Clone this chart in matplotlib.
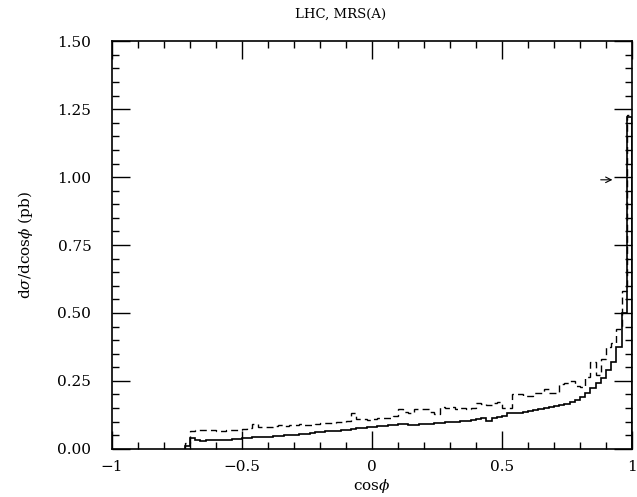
import numpy as np
import matplotlib.pyplot as plt
from matplotlib.ticker import MultipleLocator, FixedLocator

plt.rcParams['font.family'] = 'DejaVu Serif'
plt.rcParams['mathtext.fontset'] = 'dejavuserif'

# bin edges of the histograms (width 0.02)
edges = np.round(np.arange(-0.72, 1.0001, 0.02), 2)

# solid histogram, d sigma / d cos phi in pb
solid = [0.012, 0.038, 0.031, 0.030, 0.031, 0.031, 0.033, 0.034, 0.034, 0.036,
         0.037, 0.040, 0.041, 0.042, 0.043, 0.044, 0.045, 0.046, 0.048, 0.049,
         0.050, 0.051, 0.053, 0.055, 0.058, 0.060, 0.062, 0.064, 0.066, 0.067,
         0.070, 0.071, 0.072, 0.075, 0.077, 0.079, 0.080, 0.083, 0.084, 0.086,
         0.088, 0.090, 0.090, 0.088, 0.089, 0.090, 0.092, 0.093, 0.094, 0.095,
         0.097, 0.098, 0.100, 0.102, 0.104, 0.106, 0.109, 0.113, 0.103, 0.115,
         0.117, 0.120, 0.132,
         0.130, 0.132, 0.135, 0.138, 0.142, 0.146, 0.150, 0.153, 0.157, 0.162,
         0.166, 0.174, 0.180, 0.190, 0.205, 0.224, 0.242, 0.260, 0.290, 0.320,
         0.376, 0.500, 1.220]

# dashed histogram
dashed = [0.020, 0.066, 0.068, 0.069, 0.070, 0.068, 0.066, 0.067, 0.069, 0.071,
          0.070, 0.073, 0.078, 0.090, 0.080, 0.082, 0.079, 0.083, 0.086, 0.084,
          0.088, 0.086, 0.090, 0.087, 0.089, 0.092, 0.096, 0.094, 0.095, 0.098,
          0.100, 0.104, 0.132, 0.110, 0.108, 0.107, 0.110, 0.112, 0.115, 0.113,
          0.120, 0.147, 0.135, 0.132, 0.147, 0.146, 0.147, 0.136, 0.127, 0.152,
          0.150, 0.152, 0.148, 0.150, 0.146, 0.150, 0.170, 0.165, 0.163, 0.168,
          0.172, 0.150, 0.150,
          0.200, 0.200, 0.193, 0.195, 0.205, 0.205, 0.220, 0.205, 0.205, 0.240,
          0.242, 0.248, 0.230, 0.227, 0.266, 0.321, 0.272, 0.330, 0.376, 0.390,
          0.440, 0.580, 1.230]

xticks = [-1, -0.5, 0, 0.5, 1]
xticklabels = ['\u22121', '\u22120.5', '0', '0.5', '1']
yticks = [0.0, 0.25, 0.5, 0.75, 1.0, 1.25, 1.5]

fig = plt.figure(figsize=(6.37, 4.97), dpi=100)
ax = fig.add_axes([0.176, 0.097, 0.816, 0.820])

ax.stairs(solid, edges, color='black', linewidth=1.2)
ax.stairs(dashed, edges, color='black', linewidth=1.0, linestyle=(0, (5, 3)))

# small arrow pointing at the last bin, near 1.0
ax.annotate('', xy=(0.925, 0.99), xytext=(0.88, 0.99),
            arrowprops=dict(arrowstyle='->', lw=0.8, color='black',
                            shrinkA=0, shrinkB=0))

ax.set_xlim(-1, 1)
ax.set_ylim(0, 1.5)
ax.xaxis.set_major_locator(FixedLocator(xticks))
ax.set_xticklabels(xticklabels)
ax.xaxis.set_minor_locator(MultipleLocator(0.1))
ax.set_yticks(yticks)
ax.set_yticklabels(['%.2f' % v for v in yticks])
ax.yaxis.set_minor_locator(MultipleLocator(0.05))

ax.tick_params(which='both', direction='in', top=True, right=True,
               labelsize=11, width=1.0)
ax.tick_params(which='major', length=13)
ax.tick_params(axis='x', which='major', pad=8)
ax.tick_params(axis='y', which='major', pad=15)
ax.tick_params(which='minor', length=5)
for s in ax.spines.values():
    s.set_linewidth(1.2)

ax.set_xlabel(r'cos$\phi$', fontsize=11, labelpad=2)
ax.set_ylabel(r'd$\sigma$/dcos$\phi$ (pb)', fontsize=11, labelpad=16)
fig.text(0.534, 0.972, 'LHC, MRS(A)', ha='center', va='center', fontsize=9.5)

fig.savefig('out.png', dpi=100)
